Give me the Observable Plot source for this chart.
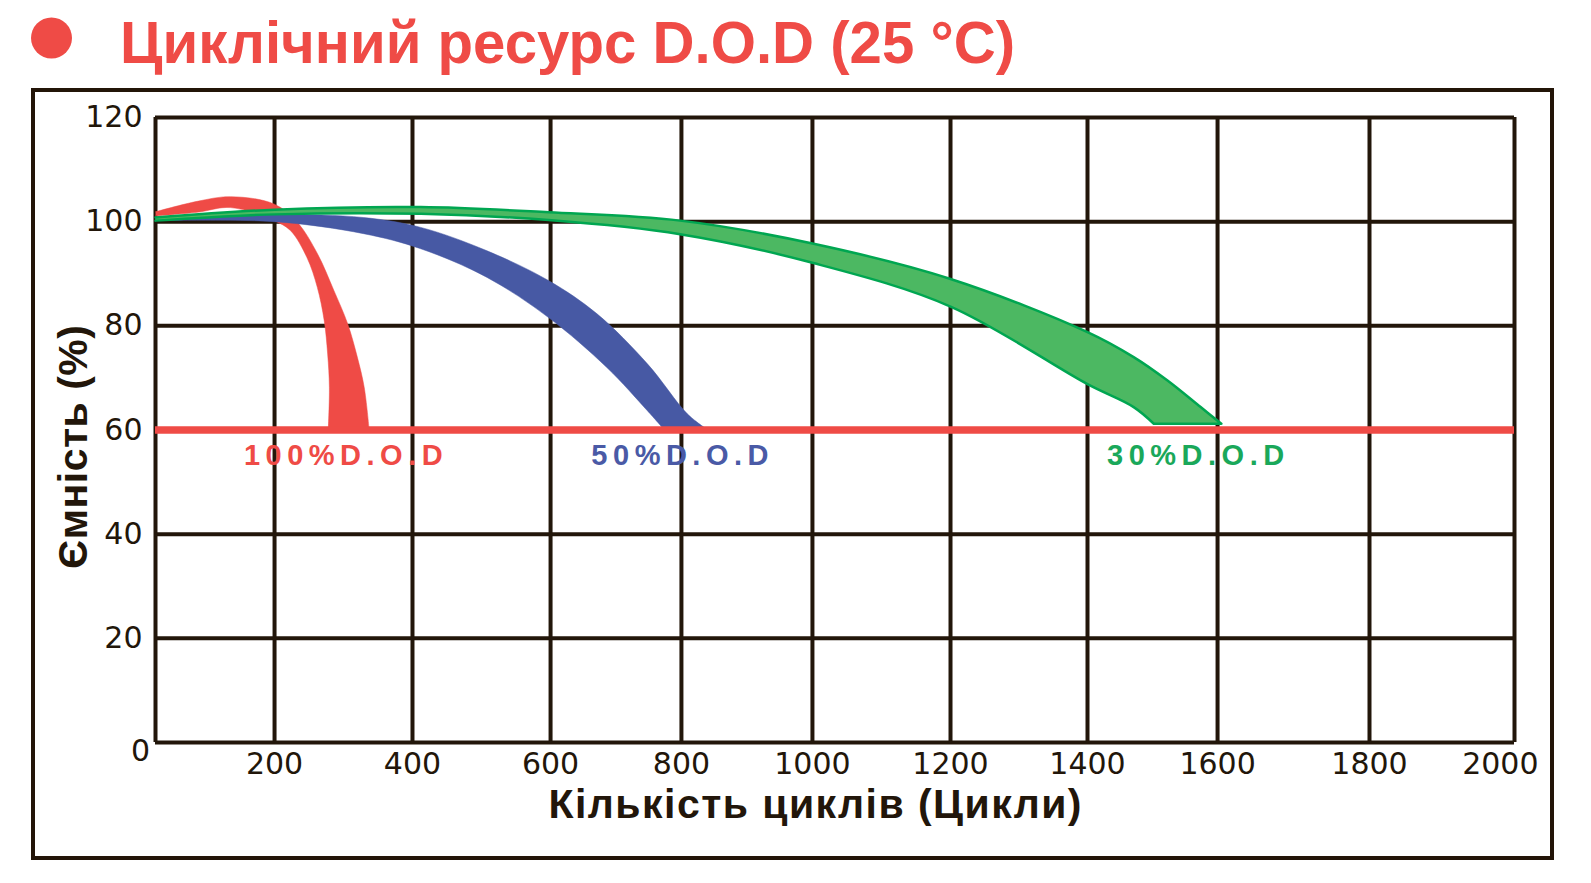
<!DOCTYPE html>
<html>
<head>
<meta charset="utf-8">
<script src="https://cdn.jsdelivr.net/npm/d3@7"></script>
<script src="https://cdn.jsdelivr.net/npm/@observablehq/plot@0.6"></script>
<style>
  html, body { margin: 0; padding: 0; background: #ffffff; }
  #title { display: block; }
  #frame { margin-left: 31px; width: 1523px; height: 772px; border: 4px solid #231508; box-sizing: border-box; }
  #frame svg { display: block; }
</style>
</head>
<body>
<svg id="title" width="1591" height="88"></svg>
<div id="frame"></div>
<script>
// ---- text ----
const titleText = "Циклічний ресурс D.O.D (25 °C)";
const yLabel = "Ємність (%)";
const xLabel = "Кількість циклів (Цикли)";

// ---- axes ----
const xTicks = [0, 200, 400, 600, 800, 1000, 1200, 1400, 1600, 1800, 2000];
// the original chart's x grid is not evenly spaced: relative position of each tick along the axis
const xGridFrac = [0, 0.0876, 0.1891, 0.2907, 0.3870, 0.4834, 0.5850, 0.6858, 0.7815, 0.8933, 1];
const yTicks = [0, 20, 40, 60, 80, 100, 120];
const cutoff = 60;

// ---- series: upper (outer) and lower (inner) edge of each band, [cycles, capacity %] ----
const red100Outer = [[0,101.9],[70,103.9],[126,104.8],[199,103.4],[233,99.9],[262,93.9],[286,86.8],[306,80.4],[320,74],[330,68.2],[337,60.3]];
const red100Inner = [[0,101.1],[70,101.8],[126,102.7],[199,100.2],[223,98.3],[247,93.1],[262,87.4],[272,81],[277,74.6],[279.5,68.2],[278,60.3]];
const blue50Outer = [[0,100.9],[200,101.4],[329,100.8],[412,98.9],[508,94.4],[597,88.7],[671,82.3],[748,72.7],[809,63.1],[837,60.3]];
const blue50Inner = [[0,100.2],[200,100],[329,97.7],[412,94.8],[508,89.3],[597,81.6],[686,72],[748,63.7],[772,60.3]];
const green30Outer = [[0,100.8],[200,102.3],[412,102.8],[597,101.8],[798,100.2],[1000,95.8],[1200,89],[1400,78.8],[1471,74],[1523,69.5],[1574,64.4],[1605,61.2]];
const green30Inner = [[0,100.2],[200,101.4],[412,101.5],[597,100.3],[798,97.6],[1000,92.1],[1200,83.7],[1400,68.8],[1471,64.4],[1502,61.2]];
const seriesLabels = ["100%D.O.D", "50%D.O.D", "30%D.O.D"];

// ---- colours ----
const RED = "#ef4b46", BLUE = "#4759a4", GREEN_FILL = "#4cb862", GREEN_LINE = "#00a651";
const GREEN_TEXT = "#1aa85a", BLUE_TEXT = "#4a5aa6", INK = "#22160a";
const SANS = "'Liberation Sans', Arial, sans-serif";

// ---- title ----
const t = d3.select("#title");
t.append("circle").attr("cx", 51.5).attr("cy", 38).attr("r", 20.5).attr("fill", RED);
t.append("text").attr("x", 120).attr("y", 63)
  .attr("font-family", SANS).attr("font-weight", "bold")
  .attr("font-size", 60).attr("fill", RED)
  .attr("textLength", 895).attr("lengthAdjust", "spacingAndGlyphs")
  .text(titleText);

// ---- chart ----
const W = 1515, H = 764, mL = 120, mR = 36, mT = 25, mB = 114;
// closed outline: outer edge, then inner edge backwards; the two bottom corners are doubled so they stay sharp
const poly = (outer, inner) => [...outer, outer[outer.length - 1], inner[inner.length - 1], ...inner.slice().reverse()];
const bands = [
  {outer: red100Outer, inner: red100Inner, fill: RED, stroke: RED, sw: 0.5, label: seriesLabels[0], text: RED},
  {outer: blue50Outer, inner: blue50Inner, fill: BLUE, stroke: BLUE, sw: 0.5, label: seriesLabels[1], text: BLUE_TEXT},
  {outer: green30Outer, inner: green30Inner, fill: GREEN_FILL, stroke: GREEN_LINE, sw: 2.5, label: seriesLabels[2], text: GREEN_TEXT}
];
const outerEndX = b => b.outer[b.outer.length - 1][0];

const marks = [
  Plot.ruleX(xTicks, {stroke: INK, strokeWidth: 4}),
  Plot.ruleY(yTicks, {stroke: INK, strokeWidth: 4}),
  ...bands.map(b => Plot.line(poly(b.outer, b.inner), {x: d => d[0], y: d => d[1], fill: b.fill, stroke: b.stroke,
      strokeWidth: b.sw, curve: "catmull-rom"})),
  Plot.ruleY([cutoff], {stroke: RED, strokeWidth: 7.5}),
  ...bands.map(b => Plot.text([b], {x: outerEndX, y: cutoff, dx: -23, dy: 26, text: d => d.label, fill: b.text,
      fontSize: 29, fontWeight: "bold", fontFamily: SANS})),
  // tick labels
  Plot.text(xTicks.slice(1, -1), {x: d => d, y: yTicks[0], dy: 22, text: d => String(d), fontSize: 30, fill: INK}),
  Plot.text(xTicks.slice(-1), {x: d => d, y: yTicks[0], dx: 24, dy: 22, textAnchor: "end", text: d => String(d), fontSize: 30, fill: INK}),
  Plot.text(xTicks.slice(0, 1), {x: d => d, y: yTicks[0], dx: -15, dy: 9, text: d => String(d), fontSize: 30, fill: INK}),
  // axis titles
  Plot.text([yLabel], {frameAnchor: "left", textAnchor: "middle", lineAnchor: "middle", rotate: -90, dx: -82, dy: 17,
      text: d => d, fontSize: 41, fontWeight: "bold", fill: INK, fontFamily: SANS}),
  Plot.text([xLabel], {frameAnchor: "bottom", textAnchor: "middle", lineAnchor: "middle", dx: -20, dy: 62,
      text: d => d, fontSize: 41, fontWeight: "bold", fill: INK, fontFamily: SANS})
];

const chart = Plot.plot({
  width: W, height: H,
  marginLeft: mL, marginRight: mR, marginTop: mT, marginBottom: mB,
  style: {fontFamily: "'DejaVu Sans', sans-serif", fontSize: "30px", color: INK, background: "#ffffff"},
  x: {type: "linear", domain: xTicks, range: xGridFrac.map(f => mL + f * (W - mL - mR)), axis: null},
  y: {type: "linear", domain: [yTicks[0], yTicks[yTicks.length - 1]],
      ticks: yTicks.slice(1), tickSize: 0, tickPadding: 13, tickFormat: d => String(d), label: null},
  marks
});
document.getElementById("frame").appendChild(chart);
chart.querySelectorAll("text").forEach(el => {
  const s = el.textContent;
  if (seriesLabels.includes(s)) el.style.letterSpacing = "5.5px";
  if (s === xLabel) { el.setAttribute("textLength", 533); el.setAttribute("lengthAdjust", "spacing"); }
  if (s === yLabel) { el.setAttribute("textLength", 244); el.setAttribute("lengthAdjust", "spacing"); }
});
</script>
</body>
</html>
